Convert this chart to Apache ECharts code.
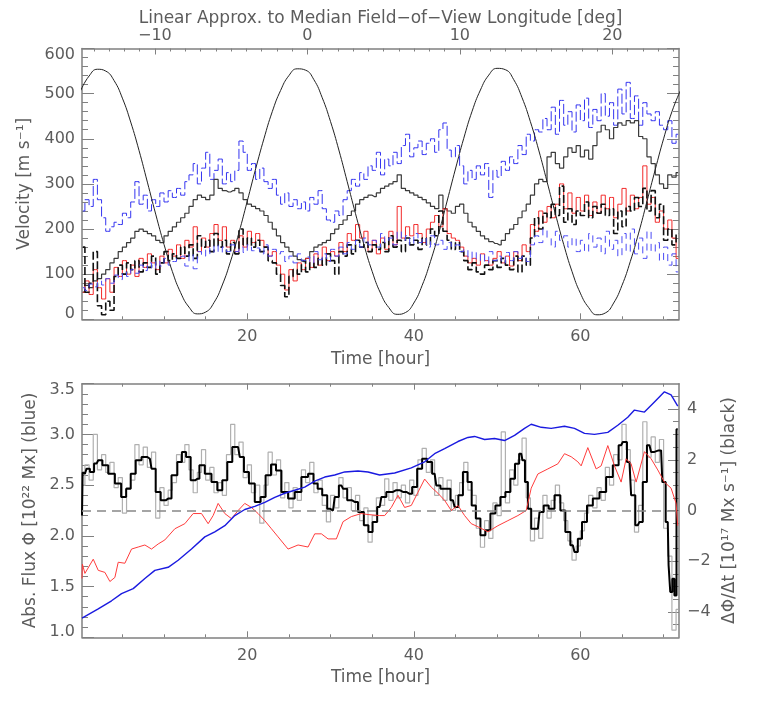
<!DOCTYPE html>
<html>
<head>
<meta charset="utf-8">
<title>Velocity and flux</title>
<script src="https://cdn.jsdelivr.net/npm/echarts@6/dist/echarts.min.js"></script>
<style>
  html, body { margin: 0; padding: 0; background: #fff; }
  #chart { width: 761px; height: 703px; }
</style>
</head>
<body>
<div id="chart"></div>
<script>
// time range of both panels [hour], longitude range of the top axis [deg]
const T_MIN = 0.15, T_MAX = 71.85
const LON_MIN = -14.78, LON_MAX = 24.37

// tick labels
const timeLabels = [20, 40, 60]
const timeMinor = [5, 10, 15, 25, 30, 35, 45, 50, 55, 65, 70]
const lonLabels = [-10, 0, 10, 20]
const lonMinor = [-14, -13, -12, -11, -9, -8, -7, -6, -5, -4, -3, -2, -1, 1, 2, 3, 4, 5, 6, 7, 8, 9,
  11, 12, 13, 14, 15, 16, 17, 18, 19, 21, 22, 23, 24]
const rateLabels = [-4, -2, 0, 2, 4]
const rateMinor = [-4.5, -3.5, -3, -2.5, -1.5, -1, -0.5, 0.5, 1, 1.5, 2.5, 3, 3.5, 4.5]

// top panel, black reference curve, one value per hour from t = 0
const sineCurve = [
  507, 539, 554, 550, 529, 490, 437, 374, 304, 233, 166, 106, 59, 27, 12, 16, 37, 76, 129, 192, 262, 333, 400, 460,
  507, 540, 555, 552, 531, 491, 438, 375, 305, 234, 166, 106, 58, 26, 11, 15, 36, 75, 128, 191, 262, 333, 401, 461,
  508, 541, 556, 553, 531, 491, 438, 375, 305, 234, 166, 106, 58, 26, 10, 14, 36, 75, 128, 191, 261, 332, 400, 460,
  506
]

// top panel velocities, one value per half hour from t = 0.25
const blueUpper = [
  240, 265, 250, 310, 265, 225, 195, 205, 215, 210, 235, 225,
  260, 305, 255, 275, 240, 265, 250, 280, 260, 285, 270, 290,
  275, 305, 320, 345, 300, 335, 370, 310, 330, 355, 300, 325,
  305, 330, 395, 370, 330, 345, 310, 335, 305, 290, 310, 275,
  255, 280, 250, 265, 245, 260, 240, 270, 255, 285, 245, 220,
  215, 240, 230, 265, 285, 310, 295, 325, 310, 340, 330, 370,
  320, 355, 340, 370, 345, 385, 410, 360, 380, 395, 365, 390,
  400, 370, 420, 435, 375, 360, 385, 340, 300, 330, 310, 340,
  320, 345, 270, 330, 315, 350, 330, 360, 345, 385, 365, 410,
  395, 420, 415, 445, 420, 470, 410, 485, 430, 460, 415, 475,
  440, 490, 425, 465, 440, 500, 450, 480, 430, 510, 455, 525,
  445, 495, 430, 480, 455, 440, 460, 430, 420, 440, 390, 410
]
const blackUpper = [
  60, 75, 70, 85, 90, 100, 110, 125, 135, 150, 160, 170,
  180, 195, 200, 195, 190, 185, 175, 170, 185, 195, 205, 215,
  225, 235, 250, 265, 275, 270, 265, 275, 310, 290, 285, 282,
  285, 290, 280, 265, 255, 250, 245, 240, 230, 215, 200, 185,
  170, 160, 150, 140, 132, 128, 135, 150, 160, 165, 170, 175,
  190, 200, 210, 220, 230, 240, 255, 265, 270, 275, 272, 280,
  290, 295, 300, 305, 320, 290, 285, 280, 275, 270, 265, 258,
  250, 245, 275, 245, 240, 235, 250, 255, 235, 215, 205, 195,
  185, 178, 172, 168, 165, 175, 190, 200, 210, 225, 240, 255,
  275, 300, 310, 305, 360, 370, 345, 335, 360, 380, 370, 385,
  360, 375, 355, 385, 415, 430, 420, 400, 425, 435, 430, 440,
  435, 440, 405, 400, 360, 345, 320, 300, 290, 320, 315, 325
]
const redLower = [
  60, 85, 55, 110, 70, 45, 90, 60, 115, 95, 130, 100,
  120, 95, 135, 115, 145, 125, 110, 140, 125, 155, 140, 165,
  135, 175, 160, 205, 150, 180, 160, 190, 210, 175, 205, 160,
  175, 150, 185, 160, 195, 170, 190, 175, 160, 140, 150, 120,
  100, 65, 110, 85, 125, 110, 135, 115, 145, 120, 160, 130,
  150, 140, 170, 150, 190, 175, 210, 180, 195, 150, 175, 145,
  180, 155, 195, 165, 250, 180, 205, 185, 210, 190, 170, 200,
  215, 230, 205, 245, 190, 180, 175, 160, 140, 125, 135, 120,
  145, 130, 120, 135, 150, 125, 140, 118, 150, 130, 165, 150,
  210, 195, 240, 215, 250, 225, 255, 300, 245, 280, 235, 270,
  240, 275, 230, 260, 235, 275, 245, 270, 225, 255, 290, 240,
  275, 245, 270, 340, 255, 270, 215, 240, 200, 220, 180, 135
]
const blackLower = [
  160, 60, 80, 150, 30, 10, 40, 20, 95, 120, 100, 125,
  110, 130, 105, 125, 115, 140, 100, 125, 150, 130, 145, 135,
  160, 140, 165, 135, 185, 160, 175, 150, 190, 160, 175, 145,
  170, 145, 200, 165, 180, 160, 175, 150, 160, 130, 125, 100,
  75, 50, 95, 110, 100, 130, 105, 125, 115, 135, 120, 145,
  130, 100, 150, 140, 165, 145, 175, 160, 170, 150, 165, 155,
  170, 150, 185, 160, 175, 150, 180, 165, 175, 155, 180, 165,
  200, 185, 240, 195, 175, 155, 170, 150, 130, 110, 125, 105,
  100, 120, 110, 130, 115, 135, 120, 110, 140, 105, 140, 120,
  180, 225, 200, 235, 225, 255, 230, 295, 215, 245, 210, 240,
  230, 260, 225, 250, 235, 255, 230, 245, 190, 240, 205, 250,
  240, 270, 250, 290, 240, 285, 225, 255, 175, 200, 165, 190
]
const blueLower = [
  70, 64, 78, 72, 85, 76, 90, 80, 98, 88, 105, 95,
  110, 102, 120, 108, 125, 112, 130, 118, 135, 120, 128, 138,
  140, 118, 145, 112, 150, 140, 158, 145, 165, 148, 160, 150,
  165, 150, 160, 148, 165, 152, 158, 145, 165, 140, 155, 145,
  150, 128, 140, 125, 145, 130, 138, 125, 150, 132, 145, 128,
  155, 140, 160, 145, 170, 155, 175, 160, 180, 165, 175, 160,
  190, 170, 180, 165, 195, 175, 185, 165, 190, 170, 180, 160,
  185, 165, 175, 155, 170, 160, 165, 150, 155, 135, 150, 130,
  145, 125, 150, 130, 140, 125, 148, 130, 150, 135, 140, 128,
  165, 185, 170, 200, 180, 160, 195, 175, 185, 160, 180, 150,
  175, 150, 190, 160, 180, 145, 195, 155, 175, 140, 190, 150,
  200, 145, 180, 135, 195, 150, 170, 130, 160, 120, 145, 105
]

// bottom panel, [hour, flux 1e22 Mx]
const fluxBlue = [
  [0.15, 1.19], [2.1, 1.28], [3.7, 1.36], [4.9, 1.43], [6.3, 1.48], [7.7, 1.58], [8.9, 1.66], [10.5, 1.69],
  [11.7, 1.76], [13.3, 1.87], [14.9, 1.99], [16.1, 2.04], [17.3, 2.10], [18.5, 2.20], [19.7, 2.26], [20.9, 2.29],
  [22.1, 2.33], [23.3, 2.38], [24.5, 2.42], [25.7, 2.45], [26.9, 2.48], [28.1, 2.54], [29.3, 2.58], [30.5, 2.60],
  [31.7, 2.63], [33.3, 2.64], [34.5, 2.63], [35.9, 2.60], [37.7, 2.62], [39.7, 2.67], [41.3, 2.73], [42.5, 2.81],
  [43.7, 2.86], [45.3, 2.93], [46.5, 2.97], [47.3, 2.98], [48.5, 2.95], [49.7, 2.96], [50.9, 2.94], [52.1, 2.99],
  [53.3, 3.06], [54.1, 3.10], [55.3, 3.07], [56.5, 3.06], [58.1, 3.08], [59.3, 3.06], [60.5, 3.01], [61.7, 3.00],
  [63.3, 3.02], [64.5, 3.09], [65.7, 3.17], [66.5, 3.24], [67.7, 3.22], [68.9, 3.32], [70.1, 3.42], [70.9, 3.39],
  [71.7, 3.28]
]
const fluxRed = [
  [0.15, 1.58], [0.2, 1.72], [0.5, 1.63], [1.5, 1.77], [2.1, 1.66], [2.9, 1.64], [3.5, 1.55], [4.1, 1.59],
  [4.5, 1.74], [5.3, 1.73], [6.1, 1.87], [6.9, 1.89], [7.7, 1.91], [8.5, 1.87], [9.3, 1.92], [10.1, 1.96],
  [11.3, 2.07], [12.5, 2.12], [13.5, 2.22], [14.5, 2.22], [15.3, 2.12], [15.9, 2.20], [16.5, 2.32], [17.3, 2.22],
  [18.1, 2.17], [18.9, 2.25], [19.7, 2.32], [20.5, 2.28], [21.3, 2.22], [22.1, 2.15], [22.9, 2.07], [23.7, 1.99],
  [24.9, 1.87], [26.1, 1.91], [27.3, 1.89], [28.1, 2.02], [28.9, 2.02], [29.7, 1.97], [30.7, 1.97], [31.5, 2.14],
  [32.5, 2.19], [33.7, 2.22], [34.5, 2.21], [35.9, 2.20], [36.5, 2.20], [37.3, 2.28], [38.1, 2.40], [38.9, 2.28],
  [39.7, 2.30], [40.5, 2.43], [41.3, 2.56], [42.1, 2.48], [42.9, 2.42], [43.7, 2.35], [44.5, 2.25], [45.3, 2.30],
  [46.1, 2.20], [46.9, 2.12], [47.7, 2.09], [48.9, 2.04], [50.1, 2.10], [51.3, 2.15], [52.5, 2.20], [53.5, 2.25],
  [54.1, 2.47], [54.9, 2.61], [56.1, 2.66], [57.3, 2.71], [58.1, 2.81], [58.9, 2.78], [59.7, 2.73], [60.1, 2.69],
  [60.9, 2.87], [61.9, 2.66], [62.5, 2.69], [63.3, 2.89], [64.1, 2.69], [64.9, 2.53], [65.5, 2.76], [66.1, 2.71],
  [66.7, 2.53], [67.7, 2.83], [68.5, 2.76], [69.3, 2.65], [70.1, 2.53], [70.9, 2.47], [71.5, 2.32], [71.7, 2.10]
]
// bottom panel, flux rate [1e17 Mx/s], smoothed as [hour, value]
const rateSmooth = [
  [0.15, -0.2], [0.3, 1.5], [0.5, 1.45], [0.9, 1.65], [1.3, 1.52], [1.9, 1.85], [2.3, 1.98], [2.9, 1.78],
  [3.7, 1.45], [4.5, 1.06], [5.2, 0.53], [5.7, 0.86], [6.3, 1.45], [6.9, 1.98], [7.7, 2.11], [8.3, 2.04],
  [8.7, 1.65], [9.3, 0.73], [9.9, 0.40], [10.5, 0.47], [11.3, 1.39], [11.9, 1.91], [12.4, 2.31], [12.9, 2.11],
  [13.5, 1.19], [14.0, 1.25], [14.5, 1.78], [15.3, 1.45], [16.1, 1.12], [16.7, 0.80], [17.3, 1.19], [17.9, 1.91],
  [18.5, 2.50], [18.9, 2.50], [19.3, 2.11], [19.9, 1.52], [20.5, 1.06], [21.3, 0.34], [21.9, 0.53], [22.5, 1.39],
  [23.2, 1.81], [23.7, 1.58], [24.5, 0.73], [25.3, 0.47], [26.1, 0.73], [26.9, 1.32], [27.7, 1.45], [28.2, 1.06],
  [28.7, 0.86], [29.3, 0.60], [29.9, 0.07], [30.3, 0.0], [30.7, 0.53], [31.3, 0.99], [31.7, 0.86], [32.3, 0.40],
  [32.9, 0.34], [33.7, -0.06], [34.3, -0.58], [34.8, -0.85], [35.3, -0.45], [35.9, 0.14], [36.3, 0.53], [37.1, 0.73],
  [37.9, 0.80], [38.7, 0.73], [39.5, 0.66], [40.1, 0.93], [40.7, 1.65], [41.3, 2.04], [41.9, 1.91], [42.5, 1.45],
  [42.9, 0.99], [43.5, 0.86], [44.1, 0.86], [44.7, 0.40], [45.1, 0.14], [45.6, 0.60], [46.2, 1.52], [46.7, 1.12],
  [47.2, 0.20], [47.7, -0.32], [48.3, -0.98], [48.9, -0.78], [49.5, -0.12], [50.1, 0.20], [50.7, 0.53], [51.3, 0.73],
  [51.9, 1.25], [52.4, 1.84], [52.9, 2.24], [53.2, 1.98], [53.5, 1.12], [53.9, 0.07], [54.3, -0.72], [54.9, -0.72],
  [55.3, -0.06], [55.9, 0.20], [56.5, 0.07], [57.3, 0.60], [57.9, 0.0], [58.5, -0.85], [59.1, -1.37], [59.5, -1.64],
  [59.9, -1.11], [60.5, -0.45], [61.1, 0.20], [61.9, 0.47], [62.7, 0.73], [63.5, 1.32], [64.3, 1.78], [64.9, 2.57],
  [65.3, 2.70], [65.9, 1.91], [66.3, 0.60], [66.9, -0.58], [67.3, -0.45], [67.7, 1.12], [68.3, 2.57], [68.7, 2.31],
  [69.1, 2.37], [69.7, 2.37], [70.0, 1.12], [70.5, -0.45], [70.7, -2.16], [70.9, -3.21], [71.2, -2.69], [71.4, -3.35],
  [71.7, 3.2]
]
// raw flux rate, one value per half hour from t = 0.25
const rateRaw = [
  1.0, 1.8, 1.2, 3.0, 1.6, 2.2, 1.5, 1.9, 0.9, 1.3, -0.1, 0.9,
  1.2, 2.6, 1.8, 2.5, 1.7, 2.3, -0.3, 0.9, 0.2, 0.8, 1.1, 2.2,
  1.9, 2.6, 1.6, 0.7, 1.5, 2.4, 1.2, 1.7, 0.7, 1.1, 0.6, 2.2,
  3.4, 2.2, 2.7, 1.3, 1.8, 0.7, 1.0, -0.5, 1.0, 2.3, 1.4, 2.0,
  0.5, 1.1, 0.1, 0.9, 0.4, 1.6, 1.1, 1.9, 0.7, 1.2, 0.2, -0.45,
  0.6, 0.1, 1.3, 0.5, 0.9, 0.0, 0.6, -0.4, 0.1, -1.25, -0.2, 0.5,
  0.2, 1.25, 0.4, 1.1, 0.5, 1.0, 0.3, 1.2, 0.6, 2.0, 2.45, 1.5,
  2.0, 0.6, 1.3, 0.4, 1.2, 0.0, 0.6, 1.1, 1.9, 0.8, 0.6, -0.7,
  -1.45, -0.4, -1.1, 0.3, -0.2, 3.1, 0.3, 1.6, 1.0, 2.0, 2.85, 0.5,
  -1.2, -0.3, -1.1, 0.6, -0.3, 0.4, 1.0, 0.3, -0.4, -1.2, -1.96, -1.4,
  -0.8, -0.1, 0.6, 0.1, 0.9, 0.4, 1.7, 1.0, 2.2, 2.0, 3.4, 2.4,
  1.2, -0.85, 0.2, 3.5, 2.1, 2.9, 1.9, 2.8, -0.7, -1.8, -4.72, -3.9
]

const halfHour = arr => arr.map((v, i) => [0.25 + 0.5 * i, v])
const hourly = arr => arr.map((v, i) => [i, v])

const FONT = 'DejaVu Sans'
const TXT = '#5c5c5c'
const frame = { color: '#808080', width: 1.5 }
const tickLine = { color: '#808080', width: 1 }
const labelFont = { fontFamily: FONT, fontSize: 16, color: TXT }
const nameFont = { fontFamily: FONT, fontSize: 17, color: TXT }
const minus = v => (v < 0 ? '\u2212' + (-v) : String(v))

// an axis that only draws ticks (and optionally its line / labels)
function axis(opt) {
  return Object.assign({
    type: 'value',
    axisLine: { show: false, onZero: false },
    axisTick: { show: false },
    axisLabel: { show: false },
    splitLine: { show: false },
    minorTick: { show: false }
  }, opt)
}
function ticks(values, len) {
  return { show: true, inside: true, length: len, customValues: values, lineStyle: tickLine }
}

const xAxes = [
  // top panel
  axis({
    gridIndex: 0, position: 'bottom', min: T_MIN, max: T_MAX,
    axisLine: { show: true, onZero: false, lineStyle: frame },
    axisTick: ticks(timeLabels, 6),
    axisLabel: Object.assign({ show: true, customValues: timeLabels, margin: 10 }, labelFont),
    name: 'Time [hour]', nameLocation: 'middle', nameGap: 32, nameTextStyle: nameFont
  }),
  axis({ gridIndex: 0, position: 'bottom', min: T_MIN, max: T_MAX, axisTick: ticks(timeMinor, 3) }),
  axis({
    gridIndex: 0, position: 'top', min: LON_MIN, max: LON_MAX,
    axisLine: { show: true, onZero: false, lineStyle: frame },
    axisTick: ticks(lonLabels, 6),
    axisLabel: Object.assign({ show: true, customValues: lonLabels, margin: 5, formatter: minus }, labelFont),
    name: 'Linear Approx. to Median Field\u2212of\u2212View Longitude [deg]',
    nameLocation: 'middle', nameGap: 21, nameTextStyle: nameFont
  }),
  axis({ gridIndex: 0, position: 'top', min: LON_MIN, max: LON_MAX, axisTick: ticks(lonMinor, 3) }),
  // bottom panel
  axis({
    gridIndex: 1, position: 'bottom', min: T_MIN, max: T_MAX,
    axisLine: { show: true, onZero: false, lineStyle: frame },
    axisTick: ticks(timeLabels, 6),
    axisLabel: Object.assign({ show: true, customValues: timeLabels, margin: 11 }, labelFont),
    name: 'Time [hour]', nameLocation: 'middle', nameGap: 32, nameTextStyle: nameFont
  }),
  axis({ gridIndex: 1, position: 'bottom', min: T_MIN, max: T_MAX, axisTick: ticks(timeMinor, 3) }),
  axis({
    gridIndex: 1, position: 'top', min: T_MIN, max: T_MAX,
    axisLine: { show: true, onZero: false, lineStyle: frame },
    axisTick: ticks(timeLabels, 6)
  }),
  axis({ gridIndex: 1, position: 'top', min: T_MIN, max: T_MAX, axisTick: ticks(timeMinor, 3) })
]

const edgeRich = {
  hi: { fontFamily: FONT, fontSize: 16, color: TXT, padding: [12, 0, 0, 0] },
  lo: { fontFamily: FONT, fontSize: 16, color: TXT, padding: [0, 0, 10, 0] }
}

const yAxes = [
  // top panel, velocity
  axis({
    gridIndex: 0, position: 'left', min: 0, max: 600, interval: 100,
    axisLine: { show: true, onZero: false, lineStyle: frame },
    axisTick: { show: true, inside: true, length: 12, lineStyle: tickLine },
    minorTick: { show: true, splitNumber: 5, length: 6, lineStyle: tickLine },
    axisLabel: Object.assign({
      show: true, margin: 7, rich: edgeRich,
      formatter: v => (v === 600 ? '{hi|600}' : v === 0 ? '{lo|0}' : String(v))
    }, labelFont),
    name: 'Velocity [m s\u207B\u00B9]', nameLocation: 'middle', nameRotate: 90, nameGap: 48,
    nameTextStyle: nameFont
  }),
  axis({
    gridIndex: 0, position: 'right', min: 0, max: 600, interval: 100,
    axisLine: { show: true, onZero: false, lineStyle: frame },
    axisTick: { show: true, inside: true, length: 12, lineStyle: tickLine },
    minorTick: { show: true, splitNumber: 5, length: 6, lineStyle: tickLine }
  }),
  // bottom panel, flux
  axis({
    gridIndex: 1, position: 'left', min: 1, max: 3.5, interval: 0.5,
    axisLine: { show: true, onZero: false, lineStyle: frame },
    axisTick: { show: true, inside: true, length: 12, lineStyle: tickLine },
    minorTick: { show: true, splitNumber: 5, length: 6, lineStyle: tickLine },
    axisLabel: Object.assign({
      show: true, margin: 7, rich: edgeRich,
      formatter: v => {
        const s = v.toFixed(1)
        return v >= 3.5 ? '{hi|' + s + '}' : v <= 1 ? '{lo|' + s + '}' : s
      }
    }, labelFont),
    name: 'Abs. Flux \u03A6 [10\u00B2\u00B2 Mx] (blue)', nameLocation: 'middle', nameRotate: 90, nameGap: 42,
    nameTextStyle: nameFont
  }),
  // bottom panel, flux rate
  axis({
    gridIndex: 1, position: 'right', min: -5, max: 5,
    axisLine: { show: true, onZero: false, lineStyle: frame },
    axisTick: ticks(rateLabels, 11),
    axisLabel: Object.assign({ show: true, customValues: rateLabels, margin: 8, formatter: minus }, labelFont),
    name: '\u0394\u03A6/\u0394t [10\u00B9\u2077 Mx s\u207B\u00B9] (black)', nameLocation: 'middle', nameRotate: 90,
    nameGap: 33, nameTextStyle: nameFont
  }),
  axis({ gridIndex: 1, position: 'right', min: -5, max: 5, axisTick: ticks(rateMinor, 6) })
]

function line(data, color, width, opt) {
  return Object.assign({
    type: 'line', data, showSymbol: false, symbol: 'none', silent: true,
    lineStyle: { color, width }, xAxisIndex: 0, yAxisIndex: 0
  }, opt)
}

const series = [
  line(halfHour(blueUpper), '#3434f0', 1, { step: 'middle', lineStyle: { color: '#3434f0', width: 1, type: [10, 3] } }),
  line(halfHour(blackUpper), '#3a3a3a', 1.2, { step: 'middle' }),
  line(halfHour(redLower), '#f22a2a', 1, { step: 'middle' }),
  line(halfHour(blackLower), '#111', 1.6, { step: 'middle', lineStyle: { color: '#111', width: 1.6, type: [8, 3] } }),
  line(halfHour(blueLower), '#4b4bf5', 1, { step: 'middle', lineStyle: { color: '#4b4bf5', width: 1, type: [7, 5] } }),
  line(hourly(sineCurve), '#222', 1, { smooth: true }),
  line(halfHour(rateRaw), '#b0b0b0', 1.2, { step: 'middle', xAxisIndex: 4, yAxisIndex: 3 }),
  line(rateSmooth, '#000', 2, {
    step: 'middle', xAxisIndex: 4, yAxisIndex: 3,
    markLine: {
      silent: true, symbol: 'none', label: { show: false },
      lineStyle: { color: '#888', width: 1.5, type: [9, 6] },
      data: [{ yAxis: 0 }]
    }
  }),
  line(fluxRed, '#ff3c3c', 1, { xAxisIndex: 4, yAxisIndex: 2 }),
  line(fluxBlue, '#1a1ae0', 1.4, { xAxisIndex: 4, yAxisIndex: 2 })
]

const chart = echarts.init(document.getElementById('chart'))
chart.setOption({
  animation: false,
  backgroundColor: '#fff',
  textStyle: { fontFamily: FONT },
  grid: [
    { left: 82, right: 82, top: 48.5, bottom: 383.7, containLabel: false, outerBoundsMode: 'none' },
    { left: 82, right: 82, top: 383.7, bottom: 65.7, containLabel: false, outerBoundsMode: 'none' }
  ],
  xAxis: xAxes,
  yAxis: yAxes,
  series
})
</script>
</body>
</html>
